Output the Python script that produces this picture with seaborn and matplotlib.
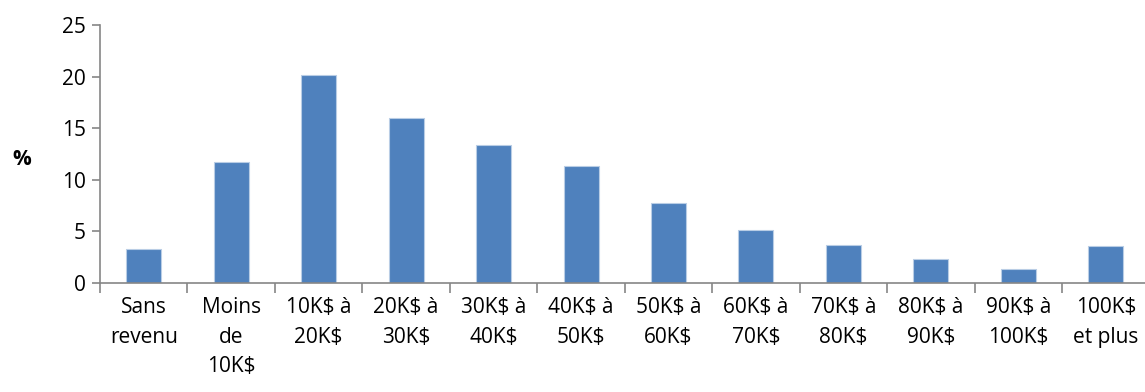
import matplotlib
matplotlib.use("Agg")
import matplotlib.pyplot as plt
import seaborn as sns
import numpy as np

# Income brackets and share (%)
categories = ["Sans\nrevenu", "Moins\nde\n10K$", "10K$ à\n20K$", "20K$ à\n30K$",
              "30K$ à\n40K$", "40K$ à\n50K$", "50K$ à\n60K$", "60K$ à\n70K$",
              "70K$ à\n80K$", "80K$ à\n90K$", "90K$ à\n100K$", "100K$\net plus"]
values = [3.25, 11.7, 20.2, 16.0, 13.4, 11.3, 7.8, 5.1, 3.7, 2.3, 1.35, 3.55]
y_ticks = [0, 5, 10, 15, 20, 25]

sns.set_style("white")
plt.rcParams['font.family'] = ['Open Sans', 'DejaVu Sans']
plt.rcParams['text.color'] = 'black'
plt.rcParams['xtick.color'] = 'black'
plt.rcParams['ytick.color'] = 'black'

fig = plt.figure(figsize=(11.45, 3.92), dpi=100)
ax = fig.add_axes([100/1145, 1 - 283/392, 1 - 100/1145 + 0.004, (283 - 25)/392])

sns.barplot(x=categories, y=values, color="#4F81BD", width=0.4,
            edgecolor="#B9CDE5", linewidth=0.8, saturation=1, ax=ax)

ax.set_ylim(0, 25)
ax.set_yticks(y_ticks)
ax.set_xlim(-0.5, len(categories) - 0.5)

sns.despine(ax=ax)
for s in ["left", "bottom"]:
    ax.spines[s].set_color("#868686")
    ax.spines[s].set_linewidth(1.2)

ax.tick_params(axis="y", which="major", direction="out", length=6, width=1.2,
               color="#868686", labelcolor="black", labelsize=15, pad=4, left=True)
ax.tick_params(axis="x", which="major", length=0, labelsize=15, labelcolor="black", pad=10)
ax.set_xticks(np.arange(-0.5, len(categories), 1), minor=True)
ax.tick_params(axis="x", which="minor", direction="out", length=7, width=1.2,
               color="#868686", bottom=True)
for lbl in ax.get_xticklabels():
    lbl.set_linespacing(1.55)
    lbl.set_va("top")

ax.set_ylabel("%", fontsize=15, fontweight="bold", rotation=0,
              va="center", ha="center", color="black")
ax.yaxis.set_label_coords(-0.075, 0.477)

fig.savefig("out.png", dpi=100)
